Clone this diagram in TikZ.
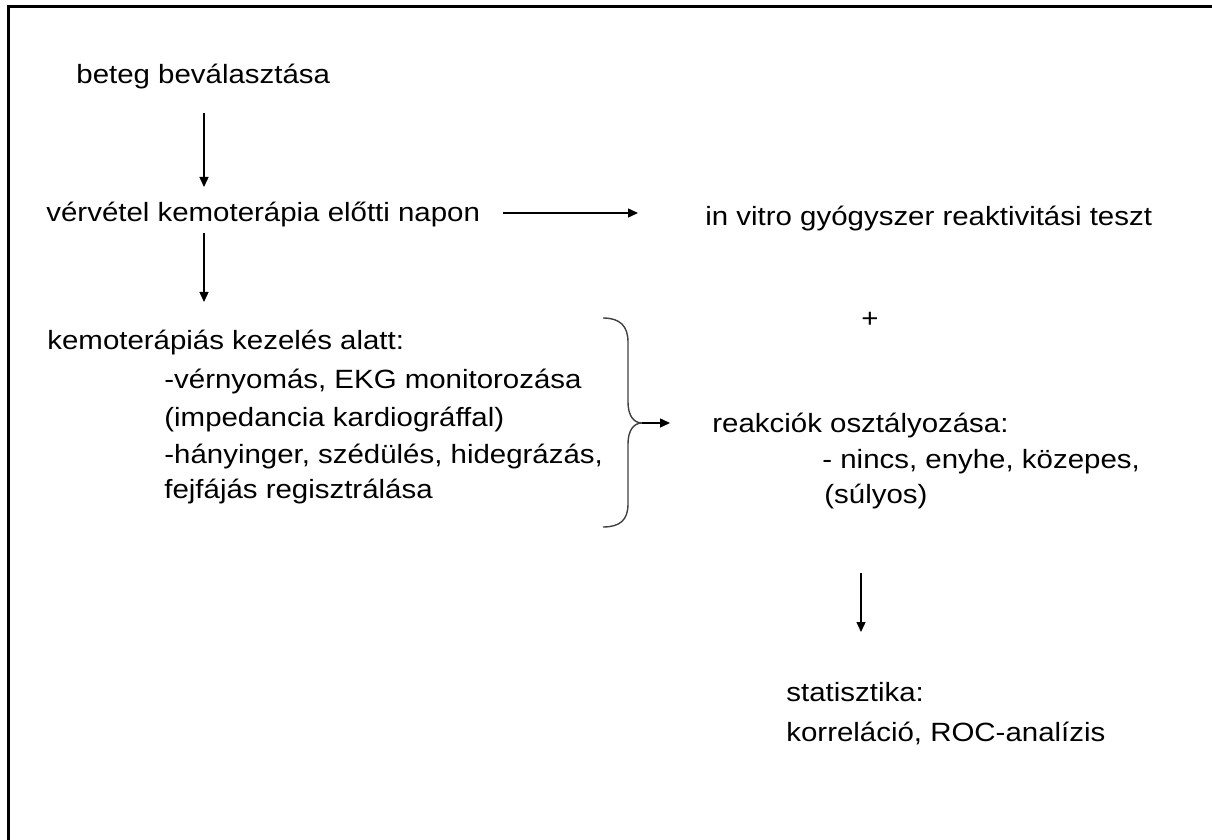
\documentclass[tikz,border=0pt]{standalone}
\usepackage{fontspec}
\setmainfont{Liberation Sans}[FakeStretch=1.115]
\usetikzlibrary{arrows.meta}
\begin{document}
\begin{tikzpicture}[x=0.5pt,y=-0.5pt,
  txt/.style={anchor=base west,inner sep=0pt,font=\fontsize{13.2pt}{16pt}\selectfont},
  conn/.style={line width=0.7pt,-{Triangle[length=5pt,width=4.5pt]}},
  frame/.style={line width=1.5pt}]
\useasboundingbox (0,0) rectangle (1212,840);
\draw[frame] (8,840) -- (8,6.5) -- (1212,6.5);
% texts
\node[txt] (t1) at (76,84) {beteg beválasztása};
\node[txt] (t2) at (46,222) {vérvétel kemoterápia előtti napon};
\node[txt] (t3) at (705,226) {in vitro gyógyszer reaktivitási teszt};
\node[txt] (t4) at (47,350) {kemoterápiás kezelés alatt:};
\node[txt] (t5) at (164,388) {-vérnyomás, EKG monitorozása};
\node[txt] (t6) at (164,426) {(impedancia kardiográffal)};
\node[txt] (t7) at (164,463) {-hányinger, szédülés, hidegrázás,};
\node[txt] (t8) at (164,498) {fejfájás regisztrálása};
\node[txt,anchor=center] (plus) at (870,320) {+};
\node[txt] (t9) at (712,432) {reakciók osztályozása:};
\node[txt] (t10) at (822,468) {- nincs, enyhe, közepes,};
\node[txt] (t11) at (824,503) {(súlyos)};
\node[txt] (t12) at (786,701) {statisztika:};
\node[txt] (t13) at (786,741) {korreláció, ROC-analízis};
% connector endpoints
\coordinate (a1s) at (204,113);
\coordinate (a1e) at (204,187);
\coordinate (a2s) at (204,233);
\coordinate (a2e) at (204,302);
\coordinate (h1s) at (503,213);
\coordinate (h1e) at (638,213);
\coordinate (btip) at (642,423);
\coordinate (bend) at (670,423);
\coordinate (a3s) at (861,573);
\coordinate (a3e) at (861,632);
\draw[conn] (a1s) -- (a1e);
\draw[conn] (a2s) -- (a2e);
\draw[conn] (h1s) -- (h1e);
\draw[conn] (a3s) -- (a3e);
% brace
\draw[line width=0.7pt,black!75] (603,318) .. controls (620,318) and (628,326) .. (628,342)
  -- (628,402) .. controls (628,416) and (634,423) .. (btip)
  .. controls (634,423) and (628,430) .. (628,444)
  -- (628,504) .. controls (628,520) and (620,527) .. (603,527);
\draw[conn] (btip) -- (bend);
\end{tikzpicture}
\end{document}
